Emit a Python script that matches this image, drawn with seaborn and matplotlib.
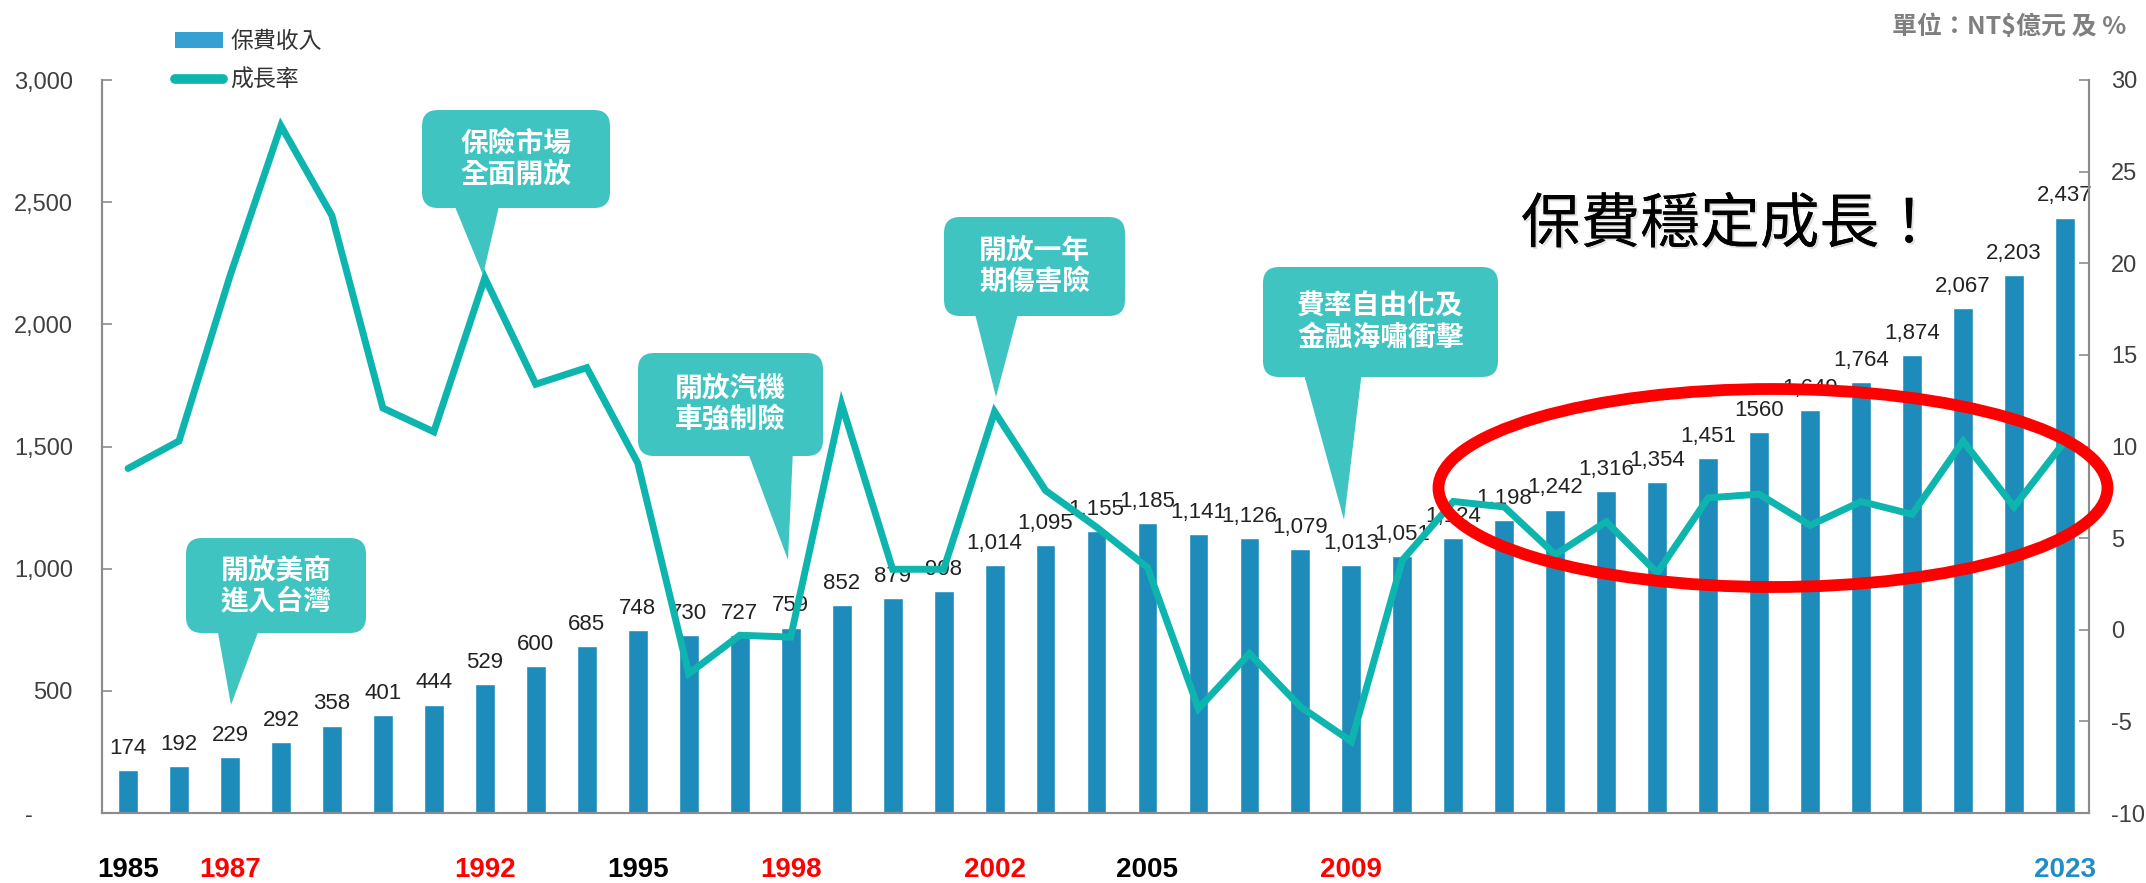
import numpy as np
import matplotlib
matplotlib.use("Agg")
import matplotlib.pyplot as plt
import seaborn as sns
from matplotlib.patches import FancyBboxPatch, Polygon, Ellipse, Patch
from matplotlib.lines import Line2D
from matplotlib.transforms import IdentityTransform
import matplotlib.patheffects as pe

# ---------------- data ----------------
years = list(range(1985, 2024))
premium = [174, 192, 229, 292, 358, 401, 444, 529, 600, 685, 748, 730, 727, 759,
           852, 879, 908, 1014, 1095, 1155, 1185, 1141, 1126, 1079, 1013, 1051,
           1124, 1198, 1242, 1316, 1354, 1451, 1560, 1649, 1764, 1874, 2067, 2203, 2437]
growth = [8.8, 10.3, 19.3, 27.5, 22.6, 12.1, 10.8, 19.2, 13.4, 14.3, 9.1, -2.4, -0.3,
          -0.4, 12.3, 3.3, 3.3, 11.9, 7.6, 5.6, 3.4, -4.3, -1.3, -4.2, -6.1, 3.8,
          7.0, 6.7, 4.1, 5.9, 3.1, 7.2, 7.4, 5.7, 7.0, 6.3, 10.3, 6.7, 10.3]
bar_labels = ["174", "192", "229", "292", "358", "401", "444", "529", "600", "685",
              "748", "730", "727", "759", "852", "879", "908", "1,014", "1,095",
              "1,155", "1,185", "1,141", "1,126", "1,079", "1,013", "1,051", "1,124",
              "1,198", "1,242", "1,316", "1,354", "1,451", "1560", "1,649", "1,764",
              "1,874", "2,067", "2,203", "2,437"]
shown_years = [1985, 1987, 1992, 1995, 1998, 2002, 2005, 2009, 2023]
shown_colors = ["black", "#FF0000", "#FF0000", "black", "#FF0000", "#FF0000",
                "black", "#FF0000", "#1F8DC6"]
left_ticks = [0, 500, 1000, 1500, 2000, 2500, 3000]
right_ticks = [-10, -5, 0, 5, 10, 15, 20, 25, 30]
callouts = [
    ("開放美商\n進入台灣", (186, 538, 366, 633), (217, 260), (231, 705)),
    ("保險市場\n全面開放", (422, 110, 610, 208), (453, 500), (483, 275)),
    ("開放汽機\n車強制險", (638, 353, 823, 456), (747, 793), (788, 560)),
    ("開放一年\n期傷害險", (944, 217, 1125, 316), (974, 1019), (996, 397)),
    ("費率自由化及\n金融海嘯衝擊", (1263, 267, 1498, 377), (1303, 1362), (1344, 520)),
]

# ---------------- style ----------------
sns.set_style("white")
plt.rcParams["font.family"] = ["Liberation Sans", "Noto Sans CJK TC", "DejaVu Sans"]

BAR = "#1E8CBB"
LEG_BAR = "#37A0D2"
LINE = "#0DB5AE"
BOX = "#40C4C2"
SPINE = "#8C8C8C"
CJK = ["Noto Sans CJK TC", "DejaVu Sans"]

W, H = 2146, 883
fig = plt.figure(figsize=(W / 100, H / 100), dpi=100)
ax = fig.add_axes([102 / W, 1 - 813 / H, (2089 - 102) / W, (813 - 80) / H])

sns.barplot(x=years, y=premium, color=BAR, saturation=1, width=0.39, ax=ax, zorder=2)
ax.bar_label(ax.containers[0], labels=bar_labels, padding=8, fontsize=16, color="#222222")

ax2 = ax.twinx()
sns.lineplot(x=np.arange(len(years)), y=growth, ax=ax2, color=LINE, lw=5,
             sort=False, legend=False)
for l in ax2.get_lines():
    l.set_solid_joinstyle("miter")

ax.set_xlim(-0.51, len(years) - 1 + 0.47)
ax.set_ylim(0, 3000)
ax2.set_ylim(-10, 30)

# x ticks
pos = [years.index(y) for y in shown_years]
ax.set_xticks(pos)
ax.set_xticklabels([str(y) for y in shown_years], fontsize=20, fontweight="bold")
for t, c in zip(ax.get_xticklabels(), shown_colors):
    t.set_color(c)
ax.tick_params(axis="x", length=0, pad=32)
ax.set_xlabel("")
ax.set_ylabel("")
ax2.set_ylabel("")

# y ticks
ax.set_yticks(left_ticks)
ax.set_yticklabels(["-      " if v == 0 else f"{v:,}" for v in left_ticks],
                   fontsize=17, color="#404040")
ax.tick_params(axis="y", direction="in", length=7, width=1.2, color=SPINE, pad=21, left=True)
ax2.set_yticks(right_ticks)
ax2.set_yticklabels([str(v) for v in right_ticks], fontsize=17, color="#404040")
ax2.tick_params(axis="y", direction="in", length=7, width=1.2, color=SPINE, pad=16, right=True)

for a in (ax, ax2):
    a.spines["top"].set_visible(False)
    for s in ("left", "bottom", "right"):
        a.spines[s].set_color(SPINE)
        a.spines[s].set_linewidth(1.5)
    a.grid(False)

# legend
handles = [Patch(facecolor=LEG_BAR, edgecolor="none"),
           Line2D([0], [0], color=LINE, lw=7, solid_capstyle="round")]
leg = fig.legend(handles, ["保費收入", "成長率"], loc="upper left",
                 bbox_to_anchor=(175 / W, 1 - 30 / H), frameon=False,
                 prop={"family": CJK, "size": 16.5}, handlelength=2.1,
                 handleheight=0.65, handletextpad=0.3, labelspacing=0.7,
                 borderpad=0, borderaxespad=0)
for t in leg.get_texts():
    t.set_color("#333333")

# callouts (pixel layout, y measured from top)
ident = IdentityTransform()
for text, (x0, y0, x1, y1), (bx0, bx1), (tx, ty) in callouts:
    box = FancyBboxPatch((x0, H - y1), x1 - x0, y1 - y0,
                         boxstyle="round,pad=0,rounding_size=16",
                         transform=ident, fc=BOX, ec="none", zorder=10)
    fig.add_artist(box)
    tri = Polygon([(bx0, H - y1 + 6), (bx1, H - y1 + 6), (tx, H - ty)],
                  closed=True, transform=ident, fc=BOX, ec="none", zorder=10)
    fig.add_artist(tri)
    fig.text((x0 + x1) / 2, H - (y0 + y1) / 2, text, transform=ident,
             ha="center", va="center", color="white", fontsize=20,
             fontweight="bold", family=CJK, linespacing=1.15, zorder=11)

# red ellipse
fig.add_artist(Ellipse((1773, H - 488), 669, 198, transform=ident, fill=False,
                       ec="#FF0000", lw=8.5, zorder=12))

# headline
fig.text(1730, H - 226, "保費穩定成長！", transform=ident, ha="center", va="center",
         fontsize=43, family=CJK, fontweight="light", color="black", zorder=12,
         path_effects=[pe.withSimplePatchShadow(offset=(1.5, -1.5), shadow_rgbFace="#AAAAAA", alpha=0.35),
                       pe.Normal()])

# unit
fig.text(2126, H - 27, "單位：NT$億元 及 %", transform=ident, ha="right", va="center",
         fontsize=18, family=CJK, fontweight="bold", color="#7F7F7F")

fig.savefig("out.png", dpi=100, facecolor="white")
